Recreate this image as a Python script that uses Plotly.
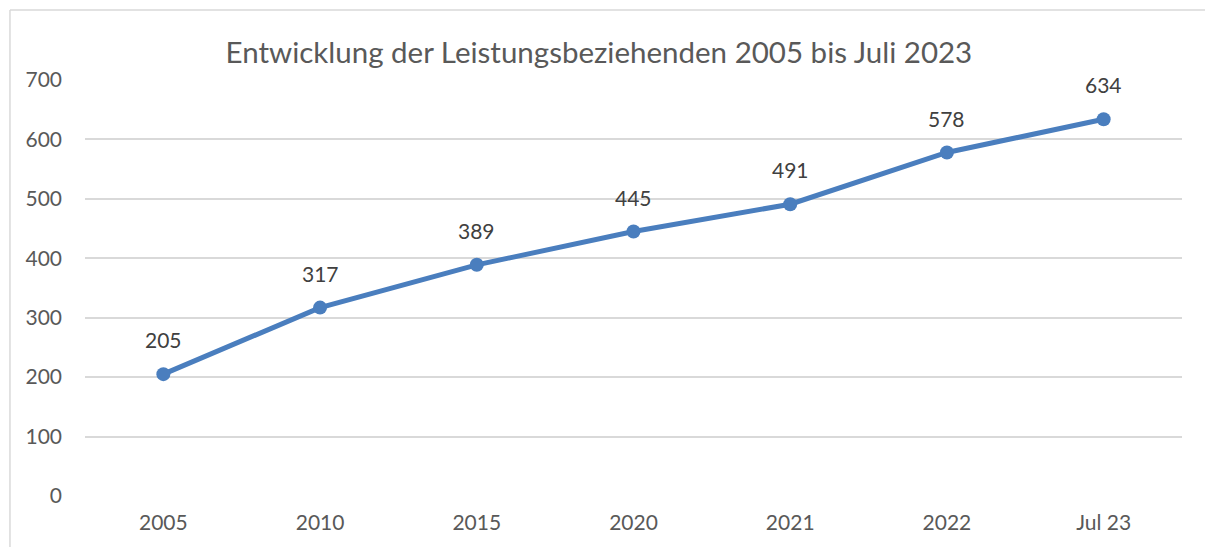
import plotly.graph_objects as go

# Leistungsbeziehende je Stichtag
kategorien = ["2005", "2010", "2015", "2020", "2021", "2022", "Jul 23"]
werte = [205, 317, 389, 445, 491, 578, 634]
y_ticks = [0, 100, 200, 300, 400, 500, 600, 700]

BLAU = "#4a7ebe"
FONT = "Lato, Carlito, Calibri, sans-serif"

fig = go.Figure()
fig.add_trace(go.Scatter(
    x=kategorien,
    y=werte,
    mode="lines+markers",
    line=dict(color=BLAU, width=5),
    marker=dict(color=BLAU, size=14),
    cliponaxis=False,
    hoverinfo="x+y",
))

# Datenbeschriftungen über den Punkten (Position = Kategorienindex)
for i, v in enumerate(werte):
    fig.add_annotation(
        x=i, y=v, text=str(v), showarrow=False,
        xanchor="center", yanchor="bottom", yshift=20,
        font=dict(family=FONT, size=21, color="#404040"),
    )

fig.update_layout(
    width=1205,
    height=547,
    margin=dict(l=85, r=23, t=80, b=51),
    paper_bgcolor="white",
    plot_bgcolor="white",
    showlegend=False,
    font=dict(family=FONT, color="#595959"),
    title=dict(
        text="Entwicklung der Leistungsbeziehenden 2005 bis Juli 2023",
        x=0.497, xanchor="center",
        y=0.903, yanchor="middle",
        font=dict(family=FONT, size=29.5, color="#595959"),
    ),
    xaxis=dict(
        type="category",
        range=[-0.5, len(kategorien) - 0.5],
        showgrid=False,
        showline=False,
        zeroline=False,
        ticks="",
        tickfont=dict(family=FONT, size=21, color="#595959"),
        ticklabelstandoff=12,
    ),
    yaxis=dict(
        range=[0, 700],
        tickvals=y_ticks,
        showgrid=True,
        gridcolor="#d9d9d9",
        gridwidth=1.5,
        zeroline=False,
        showline=False,
        ticks="",
        tickfont=dict(family=FONT, size=21, color="#595959"),
        ticklabelstandoff=22,
    ),
    shapes=[
        # Rahmen des Diagrammbereichs (links und oben)
        dict(type="line", xref="paper", yref="paper",
             x0=-0.0684, x1=-0.0684, y0=-0.2, y1=1.168,
             line=dict(color="#d9d9d9", width=1.5)),
        dict(type="line", xref="paper", yref="paper",
             x0=-0.0684, x1=1.1, y0=1.168, y1=1.168,
             line=dict(color="#d9d9d9", width=1.5)),
    ],
)

fig.write_html("out.html")
